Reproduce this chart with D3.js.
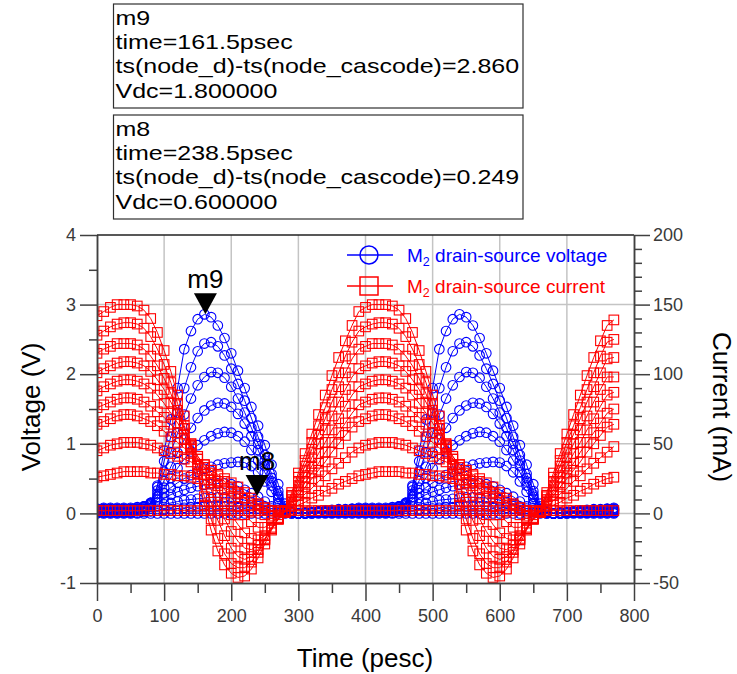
<!DOCTYPE html>
<html>
<head>
<meta charset="utf-8">
<script src="https://cdnjs.cloudflare.com/ajax/libs/d3/7.8.5/d3.min.js"></script>
<style>
body { margin: 0; background: #fff; }
svg { display: block; }
text { font-family: Arial, "Liberation Sans", sans-serif; }
</style>
</head>
<body>
<svg id="chart" width="737" height="674"></svg>
<script>
// time axis (psec)
var timePs = [0,10,20,30,40,50,60,70,80,90,100,110,120,130,140,150,160,170,180,190,200,210,220,230,240,250,260,270,280,290,300,310,320,330,340,350,360,370,380,
  390,400,410,420,430,440,450,460,470,480,490,500,510,520,530,540,550,560,570,580,590,600,610,620,630,640,650,660,670,680,690,700,710,720,730,740,750,760,770];

// drain-source voltage (V), one trace per Vdc
var vds18 = [0.07,0.08,0.08,0.08,0.08,0.08,0.09,0.1,0.15,0.4,0.9,1.35,1.8,2.36,2.62,2.79,2.86,2.82,2.7,2.52,2.3,2.05,1.8,1.53,1.26,0.98,0.7,0.42,0.14,0.03,0.0,0.01,0.02,0.03,0.04,0.05,0.06,0.06,0.07,
  0.08,0.08,0.08,0.08,0.08,0.09,0.1,0.15,0.4,0.9,1.35,1.8,2.36,2.62,2.79,2.86,2.82,2.7,2.52,2.3,2.05,1.8,1.53,1.26,0.98,0.7,0.42,0.14,0.03,0.0,0.01,0.02,0.03,0.04,0.05,0.06,0.06,0.07,0.08];
var vds16 = [0.06,0.07,0.07,0.07,0.07,0.07,0.08,0.1,0.15,0.38,0.75,1.1,1.45,1.8,2.1,2.33,2.44,2.46,2.4,2.27,2.08,1.86,1.62,1.37,1.1,0.84,0.57,0.32,0.1,0.02,0.0,0.01,0.02,0.03,0.04,0.04,0.05,0.05,0.06,
  0.07,0.07,0.07,0.07,0.07,0.08,0.1,0.15,0.38,0.75,1.1,1.45,1.8,2.1,2.33,2.44,2.46,2.4,2.27,2.08,1.86,1.62,1.37,1.1,0.84,0.57,0.32,0.1,0.02,0.0,0.01,0.02,0.03,0.04,0.04,0.05,0.05,0.06,0.07];
var vds14 = [0.06,0.06,0.06,0.06,0.06,0.06,0.07,0.1,0.15,0.33,0.6,0.88,1.15,1.42,1.65,1.84,1.96,2.03,2.02,1.95,1.82,1.65,1.45,1.23,1.0,0.76,0.51,0.27,0.07,0.01,0.0,0.01,0.02,0.03,0.03,0.04,0.05,0.05,0.06,
  0.06,0.06,0.06,0.06,0.06,0.07,0.1,0.15,0.33,0.6,0.88,1.15,1.42,1.65,1.84,1.96,2.03,2.02,1.95,1.82,1.65,1.45,1.23,1.0,0.76,0.51,0.27,0.07,0.01,0.0,0.01,0.02,0.03,0.03,0.04,0.05,0.05,0.06,0.06];
var vds12 = [0.05,0.05,0.05,0.05,0.05,0.05,0.06,0.09,0.14,0.28,0.47,0.67,0.87,1.06,1.23,1.37,1.48,1.55,1.59,1.58,1.53,1.43,1.29,1.11,0.91,0.69,0.46,0.24,0.06,0.01,0.0,0.01,0.02,0.02,0.03,0.03,0.04,0.04,0.05,
  0.05,0.05,0.05,0.05,0.05,0.06,0.09,0.14,0.28,0.47,0.67,0.87,1.06,1.23,1.37,1.48,1.55,1.59,1.58,1.53,1.43,1.29,1.11,0.91,0.69,0.46,0.24,0.06,0.01,0.0,0.01,0.02,0.02,0.03,0.03,0.04,0.04,0.05,0.05];
var vds10 = [0.05,0.05,0.05,0.05,0.05,0.05,0.06,0.08,0.13,0.24,0.37,0.51,0.65,0.78,0.89,0.98,1.05,1.11,1.15,1.17,1.16,1.11,1.03,0.91,0.76,0.59,0.4,0.21,0.05,0.01,0.0,0.01,0.01,0.02,0.02,0.03,0.03,0.04,0.04,
  0.05,0.05,0.05,0.05,0.05,0.06,0.08,0.13,0.24,0.37,0.51,0.65,0.78,0.89,0.98,1.05,1.11,1.15,1.17,1.16,1.11,1.03,0.91,0.76,0.59,0.4,0.21,0.05,0.01,0.0,0.01,0.01,0.02,0.02,0.03,0.03,0.04,0.04,0.05];
var vds08 = [0.04,0.04,0.04,0.04,0.04,0.04,0.05,0.07,0.12,0.2,0.29,0.37,0.44,0.5,0.55,0.6,0.64,0.67,0.7,0.72,0.73,0.74,0.73,0.68,0.59,0.46,0.31,0.15,0.04,0.01,0.0,0.01,0.01,0.02,0.02,0.02,0.03,0.03,0.04,
  0.04,0.04,0.04,0.04,0.04,0.05,0.07,0.12,0.2,0.29,0.37,0.44,0.5,0.55,0.6,0.64,0.67,0.7,0.72,0.73,0.74,0.73,0.68,0.59,0.46,0.31,0.15,0.04,0.01,0.0,0.01,0.01,0.02,0.02,0.02,0.03,0.03,0.04,0.04];
var vds06 = [0.03,0.03,0.03,0.03,0.03,0.03,0.04,0.06,0.1,0.16,0.22,0.27,0.31,0.34,0.37,0.39,0.41,0.42,0.43,0.43,0.42,0.39,0.34,0.29,0.24,0.17,0.1,0.05,0.02,0.01,0.0,0.0,0.01,0.01,0.02,0.02,0.02,0.03,0.03,
  0.03,0.03,0.03,0.03,0.03,0.04,0.06,0.1,0.16,0.22,0.27,0.31,0.34,0.37,0.39,0.41,0.42,0.43,0.43,0.42,0.39,0.34,0.29,0.24,0.17,0.1,0.05,0.02,0.01,0.0,0.0,0.01,0.01,0.02,0.02,0.02,0.03,0.03,0.03];
var vds04 = [0.02,0.02,0.02,0.02,0.02,0.02,0.03,0.04,0.07,0.1,0.13,0.15,0.17,0.19,0.2,0.21,0.22,0.23,0.23,0.23,0.22,0.21,0.19,0.16,0.13,0.1,0.07,0.04,0.02,0.01,0.0,0.0,0.01,0.01,0.01,0.01,0.02,0.02,0.02,
  0.02,0.02,0.02,0.02,0.02,0.03,0.04,0.07,0.1,0.13,0.15,0.17,0.19,0.2,0.21,0.22,0.23,0.23,0.23,0.22,0.21,0.19,0.16,0.13,0.1,0.07,0.04,0.02,0.01,0.0,0.0,0.01,0.01,0.01,0.01,0.02,0.02,0.02,0.02];
var vds02 = [0.01,0.01,0.01,0.01,0.01,0.01,0.01,0.02,0.03,0.04,0.05,0.06,0.07,0.08,0.09,0.09,0.1,0.1,0.1,0.1,0.1,0.09,0.09,0.08,0.07,0.05,0.04,0.02,0.01,0.0,0.0,0.0,0.0,0.01,0.01,0.01,0.01,0.01,0.01,
  0.01,0.01,0.01,0.01,0.01,0.01,0.02,0.03,0.04,0.05,0.06,0.07,0.08,0.09,0.09,0.1,0.1,0.1,0.1,0.1,0.09,0.09,0.08,0.07,0.05,0.04,0.02,0.01,0.0,0.0,0.0,0.0,0.01,0.01,0.01,0.01,0.01,0.01,0.01];
var vds00 = [0,0,0,0,0,0,0,0,0,0,0,0,0,0,0,0,0,0,0,0,0,0,0,0,0,0,0,0,0,0,0,0,0,0,0,0,0,0,0,
  0,0,0,0,0,0,0,0,0,0,0,0,0,0,0,0,0,0,0,0,0,0,0,0,0,0,0,0,0,0,0,0,0,0,0,0,0,0,0];

// drain-source current (mA), one trace per Vdc
var ids18 = [142,145,148,150,150,150,149,146,140,130,117,102,85,70,50,28,6,-12,-27,-37,-43,-46,-45,-40,-32,-22,-12,-4,2,15,29,43,57,71,85,99,112,124,135,
  145,148,150,150,150,149,146,140,130,117,102,85,70,50,28,6,-12,-27,-37,-43,-46,-45,-40,-32,-22,-12,-4,2,15,29,43,57,71,85,99,112,124,135,139];
var ids16 = [128,131,134,136,137,137,136,133,127,118,107,94,79,63,46,29,12,-4,-18,-29,-36,-39,-39,-35,-28,-19,-11,-4,1,13,26,38,51,63,76,89,101,113,123,
  131,134,136,137,137,136,133,127,118,107,94,79,63,46,29,12,-4,-18,-29,-36,-39,-39,-35,-28,-19,-11,-4,1,13,26,38,51,63,76,89,101,113,123,125];
var ids14 = [115,118,120,122,122,122,121,118,113,106,97,86,74,61,48,34,21,8,-5,-16,-25,-31,-33,-31,-26,-19,-11,-4,1,12,23,34,46,57,68,80,91,101,111,
  118,120,122,122,122,121,118,113,106,97,86,74,61,48,34,21,8,-5,-16,-25,-31,-33,-31,-26,-19,-11,-4,1,12,23,34,46,57,68,80,91,101,111,112];
var ids12 = [101,104,106,108,109,109,108,106,102,96,89,80,71,61,50,39,28,17,6,-4,-13,-20,-25,-26,-23,-18,-11,-4,1,10,20,30,40,50,60,70,80,89,98,
  104,106,108,109,109,108,106,102,96,89,80,71,61,50,39,28,17,6,-4,-13,-20,-25,-26,-23,-18,-11,-4,1,10,20,30,40,50,60,70,80,89,98,98];
var ids10 = [88,91,93,95,96,96,95,93,90,85,79,72,65,57,49,41,33,24,15,7,-1,-8,-14,-18,-19,-16,-10,-4,1,9,17,26,34,43,51,60,68,77,85,
  91,93,95,96,96,95,93,90,85,79,72,65,57,49,41,33,24,15,7,-1,-8,-14,-18,-19,-16,-10,-4,1,9,17,26,34,43,51,60,68,77,85,87];
var ids08 = [76,78,80,82,83,83,82,80,77,73,69,64,58,53,47,41,35,29,23,17,11,5,-1,-6,-10,-10,-7,-3,1,8,15,22,29,36,44,51,58,65,72,
  78,80,82,83,83,82,80,77,73,69,64,58,53,47,41,35,29,23,17,11,5,-1,-6,-10,-10,-7,-3,1,8,15,22,29,36,44,51,58,65,72,75];
var ids06 = [64,66,68,70,71,71,70,68,66,63,59,55,51,47,43,39,35,31,27,23,19,15,11,6,2,-1,-2,-1,1,7,13,19,25,31,37,44,50,56,62,
  66,68,70,71,71,70,68,66,63,59,55,51,47,43,39,35,31,27,23,19,15,11,6,2,-1,-2,-1,1,7,13,19,25,31,37,44,50,56,62,64];
var ids04 = [45,47,49,50,51,51,51,50,49,47,45,43,41,39,37,35,33,31,28,25,22,19,15,11,7,4,2,1,1,5,9,14,18,23,27,32,36,40,44,
  47,49,50,51,51,51,50,49,47,45,43,41,39,37,35,33,31,28,25,22,19,15,11,7,4,2,1,1,5,9,14,18,23,27,32,36,40,44,48];
var ids02 = [26,27,28,29,30,30,30,30,29,29,28,28,27,27,26,25,24,22,20,18,16,14,11,9,6,4,2,1,1,3,6,8,11,13,16,18,21,23,25,
  27,28,29,30,30,30,30,29,29,28,28,27,27,26,25,24,22,20,18,16,14,11,9,6,4,2,1,1,3,6,8,11,13,16,18,21,23,25,26];
var ids00 = [2,2,2,2,2,2,2,2,2,2,2,2,2,2,2,2,2,2,2,2,2,2,2,2,2,2,2,2,2,2,2,2,2,2,2,2,2,2,2,
  2,2,2,2,2,2,2,2,2,2,2,2,2,2,2,2,2,2,2,2,2,2,2,2,2,2,2,2,2,2,2,2,2,2,2,2,2,2,2];

var voltageTraces = [vds00, vds02, vds04, vds06, vds08, vds10, vds12, vds14, vds16, vds18];
var currentTraces = [ids00, ids02, ids04, ids06, ids08, ids10, ids12, ids14, ids16, ids18];

// ticks
var timeTicks = [0,100,200,300,400,500,600,700,800];
var timeMinorTicks = [50,150,250,350,450,550,650,750];
var voltTicks = [-1,0,1,2,3,4];
var voltMinorTicks = [-0.5,0.5,1.5,2.5,3.5];
var currTicks = [-50,0,50,100,150,200];
var currMinorTicks = [-40,-30,-20,-10,10,20,30,40,60,70,80,90,110,120,130,140,160,170,180,190];
var gridTimes = [100,200,300,400,500,600,700];
var gridVolts = [0,1,2,3];

// markers
var markerNames = ['m9','m8'];
var markerTimes = [161.5, 238.5];
var markerValues = [2.860, 0.249];
var markerVdc = ['1.800000','0.600000'];
var markerExpr = 'ts(node_d)-ts(node_cascode)';

var svg = d3.select('#chart');

var x = d3.scaleLinear().domain([0, 800]).range([97, 634]);
var yV = d3.scaleLinear().domain([-1, 4]).range([583, 235]);
var yI = d3.scaleLinear().domain([-50, 200]).range([583, 235]);

svg.append('defs').append('clipPath').attr('id', 'plotClip')
  .append('rect').attr('x', 97).attr('y', 235).attr('width', 537).attr('height', 348);

// grid
var gridG = svg.append('g');
gridG.selectAll('.vgrid').data(gridTimes).enter().append('line')
  .attr('x1', d => x(d)).attr('x2', d => x(d))
  .attr('y1', 235).attr('y2', 583)
  .attr('stroke', '#c4c4c4').attr('stroke-width', 1.5);
gridG.selectAll('.hgrid').data(gridVolts).enter().append('line')
  .attr('x1', 97).attr('x2', 634)
  .attr('y1', d => yV(d)).attr('y2', d => yV(d))
  .attr('stroke', '#c4c4c4').attr('stroke-width', 1.5);

var plotG = svg.append('g').attr('clip-path', 'url(#plotClip)');

function drawTrace(values, yScale, color, shape) {
  var pts = values.map(function(v, i) { return [x(timePs[i]), yScale(v)]; });
  var g = plotG.append('g');
  g.append('path')
    .attr('d', d3.line()(pts))
    .attr('fill', 'none')
    .attr('stroke', color)
    .attr('stroke-width', 1);
  if (shape === 'circle') {
    g.selectAll('circle').data(pts).enter().append('circle')
      .attr('cx', d => d[0]).attr('cy', d => d[1]).attr('r', 4.8)
      .attr('fill', 'none').attr('stroke', color).attr('stroke-width', 1.1);
  } else {
    g.selectAll('rect').data(pts).enter().append('rect')
      .attr('x', d => d[0] - 4.8).attr('y', d => d[1] - 4.8)
      .attr('width', 9.6).attr('height', 9.6)
      .attr('fill', 'none').attr('stroke', color).attr('stroke-width', 1.1);
  }
}

voltageTraces.forEach(function(tr) { drawTrace(tr, yV, '#0000ff', 'circle'); });
currentTraces.forEach(function(tr) { drawTrace(tr, yI, '#ff0000', 'square'); });

// axes
function styleAxis(g) {
  g.select('.domain').attr('stroke', '#404040').attr('stroke-width', 1.5);
  g.selectAll('.tick line').attr('stroke', '#404040').attr('stroke-width', 1.5);
  g.selectAll('.tick text').attr('fill', '#3a3a3a').style('font-size', '18px')
    .style('font-family', 'Arial, "Liberation Sans", sans-serif');
}
var plainNum = function(d) { return String(d); };

svg.append('g').attr('transform', 'translate(97,0)')
  .call(d3.axisLeft(yV).tickValues(voltMinorTicks).tickSize(8).tickSizeOuter(0).tickFormat(''))
  .call(styleAxis);
svg.append('g').attr('transform', 'translate(97,0)')
  .call(d3.axisLeft(yV).tickValues(voltTicks).tickSize(17).tickSizeOuter(0).tickPadding(4).tickFormat(plainNum))
  .call(styleAxis);

svg.append('g').attr('transform', 'translate(634,0)')
  .call(d3.axisRight(yI).tickValues(currMinorTicks).tickSize(8).tickSizeOuter(0).tickFormat(''))
  .call(styleAxis);
svg.append('g').attr('transform', 'translate(634,0)')
  .call(d3.axisRight(yI).tickValues(currTicks).tickSize(16).tickSizeOuter(0).tickPadding(3).tickFormat(plainNum))
  .call(styleAxis);

svg.append('g').attr('transform', 'translate(0,583)')
  .call(d3.axisBottom(x).tickValues(timeMinorTicks).tickSize(10).tickSizeOuter(0).tickFormat(''))
  .call(styleAxis);
svg.append('g').attr('transform', 'translate(0,583)')
  .call(d3.axisBottom(x).tickValues(timeTicks).tickSize(18).tickSizeOuter(0).tickPadding(8).tickFormat(plainNum))
  .call(styleAxis);

// top frame
svg.append('line').attr('x1', 97).attr('x2', 634).attr('y1', 235).attr('y2', 235)
  .attr('stroke', '#202020').attr('stroke-width', 1.5);

// axis titles
svg.append('text').attr('transform', 'translate(31,407) rotate(-90)')
  .attr('text-anchor', 'middle').attr('dominant-baseline', 'central')
  .style('font-size', '26px').text('Voltage (V)');
svg.append('text').attr('transform', 'translate(722,407) rotate(90)')
  .attr('text-anchor', 'middle').attr('dominant-baseline', 'central')
  .style('font-size', '26px').text('Current (mA)');
svg.append('text').attr('x', 365).attr('y', 667)
  .attr('text-anchor', 'middle').style('font-size', '26px').text('Time (pesc)');

// legend
var legendItems = [
  {label: ' drain-source voltage', color: '#0000ff', shape: 'circle', y: 255},
  {label: ' drain-source current', color: '#ff0000', shape: 'square', y: 286}
];
legendItems.forEach(function(it) {
  var g = svg.append('g');
  g.append('line').attr('x1', 347).attr('x2', 393).attr('y1', it.y).attr('y2', it.y)
    .attr('stroke', it.color).attr('stroke-width', 1.5);
  if (it.shape === 'circle') {
    g.append('circle').attr('cx', 369).attr('cy', it.y).attr('r', 9)
      .attr('fill', 'none').attr('stroke', it.color).attr('stroke-width', 1.5);
  } else {
    g.append('rect').attr('x', 360).attr('y', it.y - 9).attr('width', 18).attr('height', 18)
      .attr('fill', 'none').attr('stroke', it.color).attr('stroke-width', 1.5);
  }
  var t = g.append('text').attr('x', 407).attr('y', it.y + 6.5)
    .attr('fill', it.color).style('font-size', '19px');
  t.append('tspan').text('M');
  t.append('tspan').attr('dy', 4).style('font-size', '12.5px').text('2');
  t.append('tspan').attr('dy', -4).text(it.label);
});

// marker readout boxes
var boxTops = [4, 115];
markerNames.forEach(function(name, k) {
  var top = boxTops[k];
  svg.append('rect').attr('x', 113.5).attr('y', top).attr('width', 409.5).attr('height', 104)
    .attr('fill', '#fff').attr('stroke', '#303030').attr('stroke-width', 1.2);
  var lines = [
    name,
    'time=' + markerTimes[k].toFixed(1) + 'psec',
    markerExpr + '=' + markerValues[k].toFixed(3),
    'Vdc=' + markerVdc[k]
  ];
  lines.forEach(function(s, j) {
    var t = svg.append('text').attr('x', 115.5).attr('y', top + 20.5 + j * 24.4)
      .style('font-size', '21px').text(s);
    var len = t.node().getComputedTextLength();
    t.attr('textLength', len * 1.19).attr('lengthAdjust', 'spacingAndGlyphs');
  });
});

// marker triangles and labels
markerNames.forEach(function(name, k) {
  var px = x(markerTimes[k]);
  var py = yV(markerValues[k]);
  svg.append('path')
    .attr('d', 'M' + px + ',' + py + 'L' + (px - 11.5) + ',' + (py - 21) + 'L' + (px + 11.5) + ',' + (py - 21) + 'Z')
    .attr('fill', '#000');
  svg.append('text').attr('x', px).attr('y', py - 26)
    .attr('text-anchor', 'middle').style('font-size', '26px').text(name);
});
</script>
</body>
</html>
